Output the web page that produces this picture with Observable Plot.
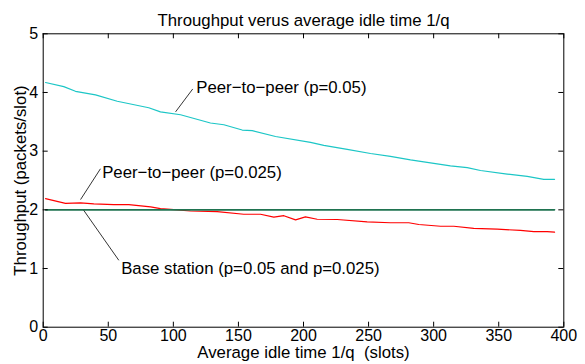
<!DOCTYPE html>
<html>
<head>
<meta charset="utf-8">
<script src="https://cdn.jsdelivr.net/npm/d3@7"></script>
<script src="https://cdn.jsdelivr.net/npm/@observablehq/plot@0.6"></script>
<style>
  html, body { margin: 0; padding: 0; background: #fff; }
  #chart svg { display: block; }
  #chart text { white-space: pre; }
</style>
</head>
<body>
<div id="chart"></div>
<script>
// ---- data ----
const p2p05X = [1.8, 15.8, 24.8, 40.2, 56.9, 81.1, 90.1, 105.5, 128.5, 138.8, 152.9, 160.6, 178.5, 205.4, 215.6, 233.6, 251.5, 266.8, 282.2, 295.0, 312.9, 325.8, 336.0, 356.5, 371.9, 384.6, 392.9];
const p2p05Y = [4.17, 4.10, 4.02, 3.96, 3.85, 3.74, 3.67, 3.62, 3.48, 3.45, 3.36, 3.35, 3.25, 3.15, 3.10, 3.03, 2.96, 2.91, 2.85, 2.81, 2.75, 2.72, 2.67, 2.61, 2.57, 2.52, 2.52];

const p2p025X = [1.8, 17.1, 28.7, 38.9, 54.2, 65.8, 82.5, 90.1, 103, 113.2, 133.7, 154.1, 167, 177.2, 184.9, 193.9, 201.5, 210.5, 225.9, 248.9, 266.8, 280.9, 288.6, 305.3, 315.5, 330.8, 348.8, 366.7, 377, 387.2, 392.9];
const p2p025Y = [2.19, 2.11, 2.12, 2.10, 2.09, 2.09, 2.05, 2.02, 2.00, 1.98, 1.97, 1.925, 1.925, 1.875, 1.90, 1.83, 1.88, 1.84, 1.835, 1.795, 1.78, 1.78, 1.75, 1.72, 1.72, 1.685, 1.67, 1.65, 1.63, 1.63, 1.62];

const baseX = [1.8, 392.9];
const baseY = [2.0, 2.0];

const xTicks = [0, 50, 100, 150, 200, 250, 300, 350, 400];
const yTicks = [0, 1, 2, 3, 4, 5];

const titleText = "Throughput verus average idle time 1/q";
const xLabel = "Average idle time 1/q  (slots)";
const yLabel = "Throughput (packets/slot)";

const annLabels = ["Peer\u2212to\u2212peer (p=0.05)", "Peer\u2212to\u2212peer (p=0.025)", "Base station (p=0.05 and p=0.025)"];
const annTextX = [117.6, 45.3, 59.9];
const annTextY = [4.08, 2.64, 0.995];
const annLineX1 = [101.7, 28.7, 31.2];
const annLineY1 = [3.67, 2.175, 1.99];
const annLineX2 = [114.9, 44.0, 58.1];
const annLineY2 = [4.06, 2.70, 1.14];

// ---- build tables ----
const series = [
  ...p2p05X.map((x, i) => ({x, y: p2p05Y[i], s: "p05"})),
  ...p2p025X.map((x, i) => ({x, y: p2p025Y[i], s: "p025"})),
  ...baseX.map((x, i) => ({x, y: baseY[i], s: "base"}))
];
const anns = annLabels.map((t, i) => ({
  t, tx: annTextX[i], ty: annTextY[i],
  x1: annLineX1[i], y1: annLineY1[i], x2: annLineX2[i], y2: annLineY2[i]
}));

const W = 585, H = 364;
const mTop = 33.3, mLeft = 42.7, mRight = 21.7, mBottom = 37.3;
const xDom = [0, 400], yDom = [0, 5];
const tickPx = 5;
const tkY = tickPx * (yDom[1] - yDom[0]) / (H - mTop - mBottom);
const tkX = tickPx * (xDom[1] - xDom[0]) / (W - mLeft - mRight);

const font = "'Liberation Sans', Arial, Helvetica, sans-serif";
const fs = 16.8;

const chart = Plot.plot({
  width: W,
  height: H,
  marginTop: mTop,
  marginLeft: mLeft,
  marginRight: mRight,
  marginBottom: mBottom,
  style: {fontFamily: font, fontSize: fs + "px", background: "#fff", color: "#000"},
  x: {domain: xDom, label: null},
  y: {domain: yDom, label: null},
  marks: [
    Plot.line(series.filter(d => d.s === "p05"), {x: "x", y: "y", stroke: "#1cc6c6", strokeWidth: 1.2}),
    Plot.line(series.filter(d => d.s === "p025"), {x: "x", y: "y", stroke: "#ff0000", strokeWidth: 1.2}),
    Plot.line(series.filter(d => d.s === "base"), {x: "x", y: "y", stroke: "#1f7350", strokeWidth: 1.6}),
    // annotation leader lines
    Plot.link(anns, {x1: "x1", y1: "y1", x2: "x2", y2: "y2", stroke: "#000", strokeWidth: 0.8}),
    Plot.text(anns, {x: "tx", y: "ty", text: "t", textAnchor: "start", fontSize: fs, fill: "#000"}),
    // inward ticks on all four sides
    Plot.ruleX(xTicks, {x: d => d, y1: yDom[0], y2: yDom[0] + tkY, stroke: "#000"}),
    Plot.ruleX(xTicks, {x: d => d, y1: yDom[1] - tkY, y2: yDom[1], stroke: "#000"}),
    Plot.ruleY(yTicks, {y: d => d, x1: xDom[0], x2: xDom[0] + tkX, stroke: "#000"}),
    Plot.ruleY(yTicks, {y: d => d, x1: xDom[1] - tkX, x2: xDom[1], stroke: "#000"}),
    Plot.frame({stroke: "#000", strokeWidth: 1}),
    Plot.axisX(xTicks, {tickSize: 0, tickPadding: 2, fontSize: 16, tickFormat: d => String(d), label: null}),
    Plot.axisY(yTicks, {tickSize: 0, tickPadding: 5, fontSize: 16, tickFormat: d => String(d), label: null}),
    // title and axis labels
    Plot.text([titleText], {frameAnchor: "top", dy: -20, fontSize: fs, fill: "#000"}),
    Plot.text([xLabel], {frameAnchor: "bottom", dy: 30.5, fontSize: fs, fill: "#000"}),
    Plot.text([yLabel], {frameAnchor: "left", dx: -23, rotate: -90, textAnchor: "middle", fontSize: fs, fill: "#000"})
  ]
});
document.getElementById("chart").appendChild(chart);
</script>
</body>
</html>
